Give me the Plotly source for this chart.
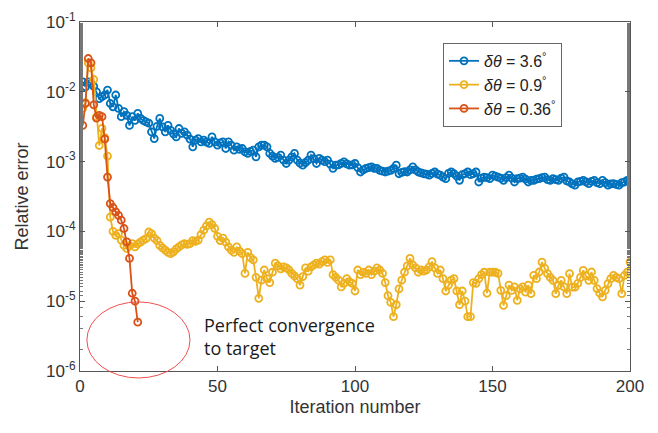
import plotly.graph_objects as go

# iteration numbers
iters_coarse = list(range(1, 201))
iters_fine = list(range(1, 201))
iters_finest = list(range(1, 22))

# relative error, delta theta = 3.6 deg
err_36 = [
    1.39e-2, 1.18e-2, 1.39e-2, 1.32e-2, 1.2e-2, 1.0e-2, 8.0e-3, 8.5e-3, 9.0e-3, 1.06e-2,
    6.8e-3, 6.1e-3, 9.0e-3, 5.8e-3, 4.4e-3, 5.2e-3, 4.6e-3, 3.3e-3, 4.4e-3, 3.9e-3,
    4.9e-3, 4.15e-3, 3.9e-3, 3.7e-3, 3.55e-3, 2.67e-3, 2.14e-3, 3.2e-3, 4.15e-3, 3.15e-3,
    2.67e-3, 3.3e-3, 2.8e-3, 2.5e-3, 2.26e-3, 2.98e-3, 2.53e-3, 2.67e-3, 2.39e-3, 2.1e-3,
    1.63e-3, 2.03e-3, 2.14e-3, 1.92e-3, 2.03e-3, 1.9e-3, 1.82e-3, 2.26e-3, 1.92e-3, 1.72e-3,
    1.85e-3, 1.92e-3, 1.54e-3, 1.92e-3, 1.72e-3, 1.46e-3, 1.63e-3, 1.5e-3, 1.54e-3, 1.38e-3,
    1.31e-3, 1.4e-3, 1.46e-3, 1.17e-3, 1.63e-3, 1.72e-3, 1.72e-3, 1.63e-3, 1.31e-3, 1.2e-3,
    1.11e-3, 1.15e-3, 1.24e-3, 1.05e-3, 9.4e-4, 1.05e-3, 1.17e-3, 1.31e-3, 1.05e-3, 9.5e-4,
    8.9e-4, 9.7e-4, 1.05e-3, 1.24e-3, 1.1e-3, 9.4e-4, 1.11e-3, 1.05e-3, 1.0e-3, 1.05e-3,
    9.2e-4, 8.0e-4, 8.9e-4, 9.0e-4, 9.4e-4, 9.9e-4, 9.3e-4, 8.9e-4, 9.0e-4, 9.4e-4,
    8.2e-4, 7.1e-4, 7.6e-4, 8.0e-4, 8.2e-4, 8.4e-4, 8.0e-4, 8.0e-4, 7.5e-4, 7.3e-4,
    7.1e-4, 7.3e-4, 7.5e-4, 8.0e-4, 8.9e-4, 6.7e-4, 7.0e-4, 7.2e-4, 7.1e-4, 7.6e-4,
    8.4e-4, 7.6e-4, 7.1e-4, 6.9e-4, 6.7e-4, 6.6e-4, 6.4e-4, 6.8e-4, 7.1e-4, 6.6e-4,
    6.4e-4, 6.0e-4, 5.7e-4, 6.8e-4, 7.1e-4, 6.7e-4, 6.2e-4, 5.4e-4, 6.5e-4, 6.7e-4,
    7.1e-4, 6.5e-4, 6.7e-4, 7.1e-4, 5.1e-4, 5.8e-4, 6.0e-4, 5.9e-4, 5.7e-4, 6.4e-4,
    6.2e-4, 6.0e-4, 5.8e-4, 5.4e-4, 5.9e-4, 6.4e-4, 5.8e-4, 5.1e-4, 5.7e-4, 5.8e-4,
    6.0e-4, 5.6e-4, 5.1e-4, 5.4e-4, 5.4e-4, 5.6e-4, 5.7e-4, 5.9e-4, 6.0e-4, 5.5e-4,
    5.4e-4, 5.7e-4, 5.5e-4, 5.4e-4, 5.8e-4, 6.0e-4, 5.3e-4, 5.1e-4, 4.8e-4, 4.6e-4,
    5.1e-4, 5.2e-4, 5.4e-4, 5.1e-4, 4.85e-4, 5.2e-4, 5.4e-4, 5.0e-4, 4.85e-4, 5.4e-4,
    5.0e-4, 4.6e-4, 4.8e-4, 4.85e-4, 4.7e-4, 4.6e-4, 5.0e-4, 5.1e-4, 5.4e-4, 5.3e-4,
]

# relative error, delta theta = 0.9 deg
err_09 = [
    5.8e-3, 7.0e-3, 2.6e-2, 2.2e-2, 1.5e-2, 4.4e-3, 1.7e-3, 3.0e-3, 2.2e-3, 1.2e-3,
    1.6e-4, 1.0e-4, 8.8e-5, 9.3e-5, 7.5e-5, 6.3e-5, 5.7e-5, 6.2e-5, 6.7e-5, 6.0e-5,
    6.6e-5, 7.0e-5, 7.5e-5, 7.9e-5, 9.8e-5, 9.3e-5, 8.0e-5, 7.4e-5, 6.3e-5, 5.8e-5,
    5.4e-5, 5.0e-5, 4.8e-5, 5.1e-5, 5.6e-5, 6.0e-5, 6.4e-5, 6.7e-5, 6.5e-5, 6.7e-5,
    7.4e-5, 7.2e-5, 7.5e-5, 9.0e-5, 1.04e-4, 1.2e-4, 1.36e-4, 1.25e-4, 1.1e-4, 8.5e-5,
    7.4e-5, 8.0e-5, 7.0e-5, 6.0e-5, 5.4e-5, 5.0e-5, 6.0e-5, 5.2e-5, 4.8e-5, 2.5e-5,
    5.0e-5, 4.2e-5, 3.9e-5, 2.2e-5, 1.1e-5, 2.0e-5, 2.8e-5, 2.1e-5, 1.85e-5, 2.6e-5,
    3.5e-5, 3.2e-5, 2.9e-5, 3.1e-5, 3.0e-5, 2.8e-5, 2.5e-5, 2.3e-5, 2.1e-5, 1.7e-5,
    2.25e-5, 3.0e-5, 2.7e-5, 3.1e-5, 3.3e-5, 3.5e-5, 3.4e-5, 3.7e-5, 3.9e-5, 3.6e-5,
    3.9e-5, 2.4e-5, 2.2e-5, 2.0e-5, 1.6e-5, 1.8e-5, 2.1e-5, 1.9e-5, 1.8e-5, 1.4e-5,
    2.8e-5, 2.4e-5, 2.6e-5, 2.5e-5, 2.8e-5, 2.4e-5, 2.7e-5, 3.0e-5, 2.8e-5, 2.5e-5,
    1.85e-5, 1.2e-5, 9.6e-6, 6.0e-6, 8.9e-6, 1.5e-5, 2.0e-5, 2.6e-5, 3.2e-5, 4.1e-5,
    3.3e-5, 3.0e-5, 2.6e-5, 2.8e-5, 2.7e-5, 2.8e-5, 3.1e-5, 3.7e-5, 3.0e-5, 2.5e-5,
    2.8e-5, 2.1e-5, 1.4e-5, 1.7e-5, 2.0e-5, 2.1e-5, 1.4e-5, 8.9e-6, 1.4e-5, 1.0e-5,
    6.0e-6, 6.0e-6, 1.85e-5, 1.8e-5, 2.1e-5, 2.4e-5, 2.6e-5, 1.3e-5, 2.6e-5, 2.6e-5,
    2.6e-5, 2.5e-5, 1.43e-5, 8.7e-6, 1.2e-5, 1.7e-5, 1.43e-5, 1.6e-5, 1.03e-5, 1.5e-5,
    1.6e-5, 1.35e-5, 1.7e-5, 1.28e-5, 2.34e-5, 2.1e-5, 2.62e-5, 3.64e-5, 2.95e-5, 2.48e-5,
    2.2e-5, 1.99e-5, 1.28e-5, 1.69e-5, 1.99e-5, 1.6e-5, 1.28e-5, 2.48e-5, 1.59e-5, 1.59e-5,
    1.8e-5, 2.2e-5, 2.77e-5, 2.3e-5, 1.99e-5, 2.62e-5, 1.99e-5, 1.51e-5, 1.3e-5, 1.15e-5,
    1.43e-5, 1.78e-5, 2.1e-5, 2.34e-5, 2.2e-5, 2.1e-5, 1.28e-5, 2.34e-5, 2.6e-5, 3.64e-5,
]

# relative error, delta theta = 0.36 deg
err_036 = [
    3.3e-3, 6.8e-3, 3.0e-2, 2.6e-2, 6.5e-3, 4.2e-3, 4.6e-3, 4.4e-3, 2.1e-3, 6.0e-4,
    2.5e-4, 2.2e-4, 1.9e-4, 1.7e-4, 1.45e-4, 1.1e-4, 7.1e-5, 4.1e-5, 1.3e-5, 1.0e-5,
    5.0e-6,
]

y_ticks = [1e-6, 1e-5, 1e-4, 1e-3, 1e-2, 1e-1]
y_tick_text = ["10<sup>-6</sup>", "10<sup>-5</sup>", "10<sup>-4</sup>",
               "10<sup>-3</sup>", "10<sup>-2</sup>", "10<sup>-1</sup>"]
x_ticks = [0, 50, 100, 150, 200]

series = [
    ("<i>δθ</i> = 3.6<sup>°</sup>", iters_coarse, err_36, "#0072BD"),
    ("<i>δθ</i> = 0.9<sup>°</sup>", iters_fine, err_09, "#EDB120"),
    ("<i>δθ</i> = 0.36<sup>°</sup>", iters_finest, err_036, "#D95319"),
]

fig = go.Figure()

for name, xs, ys, color in series:
    fig.add_trace(go.Scatter(
        x=xs, y=ys, name=name,
        mode="lines+markers",
        line=dict(color=color, width=1.8),
        marker=dict(symbol="circle-open", size=7, color=color, line=dict(width=1.8)),
    ))

# red ring round the end of the finest run
fig.add_shape(type="circle", xref="x", yref="paper",
              x0=2.5, x1=40, y0=-0.02, y1=0.198,
              line=dict(color="#F05050", width=1))

fig.add_annotation(x=44.5, y=0.098, xref="x", yref="paper",
                   text="Perfect convergence<br>to target", showarrow=False,
                   xanchor="left", yanchor="middle", align="left",
                   font=dict(family="Open Sans", size=18, color="#1a1a1a"))

axis_style = dict(
    showline=True, linecolor="#555", linewidth=1, mirror="allticks",
    ticks="inside", ticklen=5, tickcolor="#555", showgrid=False, zeroline=False,
    automargin=False,
    tickfont=dict(family="Arial", size=17, color="#333"),
)

# the page body adds an 8px offset, so the figure is a little smaller than the window
fig.update_layout(
    width=650, height=425,
    margin=dict(l=72, r=28, t=14, b=62),
    paper_bgcolor="white", plot_bgcolor="white",
    font=dict(family="Arial", color="#333"),
    xaxis=dict(range=[0, 200], tickvals=x_ticks,
               title=dict(text="Iteration number", font=dict(size=18), standoff=4),
               **axis_style),
    yaxis=dict(type="log", range=[-6, -1], tickvals=y_ticks, ticktext=y_tick_text,
               minor=dict(ticks="inside", ticklen=3, tickcolor="#777", showgrid=False),
               title=dict(text="Relative error", font=dict(size=18), standoff=12),
               **axis_style),
    legend=dict(x=0.66, y=0.94, xanchor="left", yanchor="top",
                bgcolor="white", bordercolor="#666", borderwidth=1,
                font=dict(family="Arial", size=16, color="#222"),
                tracegroupgap=0),
    showlegend=True,
)

fig.write_html("out.html")
